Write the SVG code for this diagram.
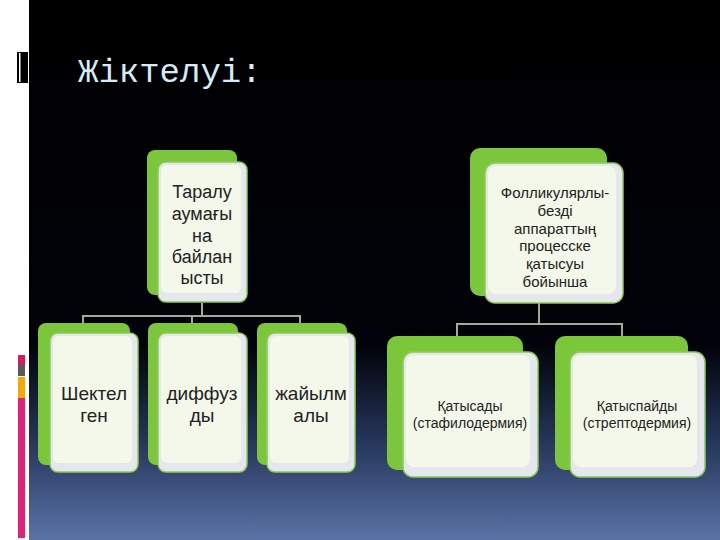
<svg xmlns="http://www.w3.org/2000/svg" width="720" height="540" viewBox="0 0 720 540">
<defs>
<linearGradient id="bg" x1="0" y1="0" x2="0" y2="1">
<stop offset="0" stop-color="#000"/>
<stop offset="0.64" stop-color="#02030a"/>
<stop offset="0.82" stop-color="#26365c"/>
<stop offset="1" stop-color="#5b73a6"/>
</linearGradient>
<style>
.g{fill:#7cc63c}
.c{fill:#e6e7ee;stroke:#8ccc50;stroke-width:1.5}
.i{fill:#f3f8ea}
.t{font-family:"Liberation Sans",Arial,sans-serif;fill:#222;text-anchor:middle}
.ln{stroke:#a0aa98;stroke-width:2;fill:none}
</style>
</defs>
<rect width="720" height="540" fill="#fff"/>
<rect x="29" width="691" height="540" fill="url(#bg)"/>
<rect x="17" y="52" width="11" height="31" fill="#000"/>
<rect x="19" y="53" width="1.5" height="29" fill="#fff"/>
<rect x="18" y="355" width="7" height="10" fill="#d81b60"/>
<rect x="18" y="365" width="7" height="11" fill="#5a5a5a"/>
<rect x="18" y="377" width="7" height="21" fill="#f2a900"/>
<rect x="18" y="398" width="7" height="140" fill="#e0207a"/>
<text x="78" y="82" font-family="Liberation Mono,monospace" font-size="34" fill="#d4ecf7">Жіктелуі:</text>
<g id="connectors">
<path class="ln" d="M202 303V316M83 323V316H300V323M192 316V323"/>
<path class="ln" d="M539 303V324M457 336V324H622V336"/>
</g>
<g id="n-top-left">
<rect class="g" x="147" y="150" width="90" height="145" rx="8"/>
<rect class="c" x="158" y="162" width="89" height="140" rx="8"/>
<rect class="i" x="161" y="165" width="80" height="128" rx="6"/>
<text class="t" font-size="18"><tspan x="202" y="198">Таралу</tspan><tspan x="202" y="220">аумағы</tspan><tspan x="202" y="242">на</tspan><tspan x="202" y="263">байлан</tspan><tspan x="202" y="284">ысты</tspan></text>
</g>
<g id="n-top-right">
<rect class="g" x="470" y="148" width="137" height="148" rx="10"/>
<rect class="c" x="485" y="163" width="138" height="140" rx="10"/>
<rect class="i" x="488" y="166" width="128" height="128" rx="8"/>
<text class="t" font-size="15"><tspan x="555" y="198">Фолликулярлы-</tspan><tspan x="555" y="216">безді</tspan><tspan x="555" y="234">аппараттың</tspan><tspan x="555" y="251">процесске</tspan><tspan x="555" y="269">қатысуы</tspan><tspan x="555" y="287">бойынша</tspan></text>
</g>
<g id="n-shektelgen">
<rect class="g" x="38" y="323" width="92" height="142" rx="8"/>
<rect class="c" x="50" y="333" width="88" height="139" rx="8"/>
<rect class="i" x="53" y="336" width="79" height="127" rx="6"/>
<text class="t" font-size="19"><tspan x="94" y="400">Шектел</tspan><tspan x="94" y="422">ген</tspan></text>
</g>
<g id="n-diffuzdy">
<rect class="g" x="148" y="323" width="90" height="142" rx="8"/>
<rect class="c" x="158" y="333" width="89" height="139" rx="8"/>
<rect class="i" x="161" y="336" width="80" height="127" rx="6"/>
<text class="t" font-size="19"><tspan x="202" y="400">диффуз</tspan><tspan x="202" y="422">ды</tspan></text>
</g>
<g id="n-zhaiylmaly">
<rect class="g" x="257" y="323" width="90" height="142" rx="8"/>
<rect class="c" x="267" y="333" width="88" height="139" rx="8"/>
<rect class="i" x="270" y="336" width="79" height="127" rx="6"/>
<text class="t" font-size="19"><tspan x="311" y="400">жайылм</tspan><tspan x="311" y="422">алы</tspan></text>
</g>
<g id="n-katysady">
<rect class="g" x="387" y="336" width="136" height="134" rx="10"/>
<rect class="c" x="403" y="352" width="135" height="125" rx="10"/>
<rect class="i" x="406" y="355" width="124" height="112" rx="8"/>
<text class="t" font-size="14"><tspan x="470" y="411">Қатысады</tspan><tspan x="470" y="428">(стафилодермия)</tspan></text>
</g>
<g id="n-katyspaidy">
<rect class="g" x="555" y="336" width="133" height="134" rx="10"/>
<rect class="c" x="570" y="352" width="135" height="125" rx="10"/>
<rect class="i" x="573" y="355" width="124" height="112" rx="8"/>
<text class="t" font-size="14"><tspan x="637" y="411">Қатыспайды</tspan><tspan x="637" y="428">(стрептодермия)</tspan></text>
</g>
</svg>
